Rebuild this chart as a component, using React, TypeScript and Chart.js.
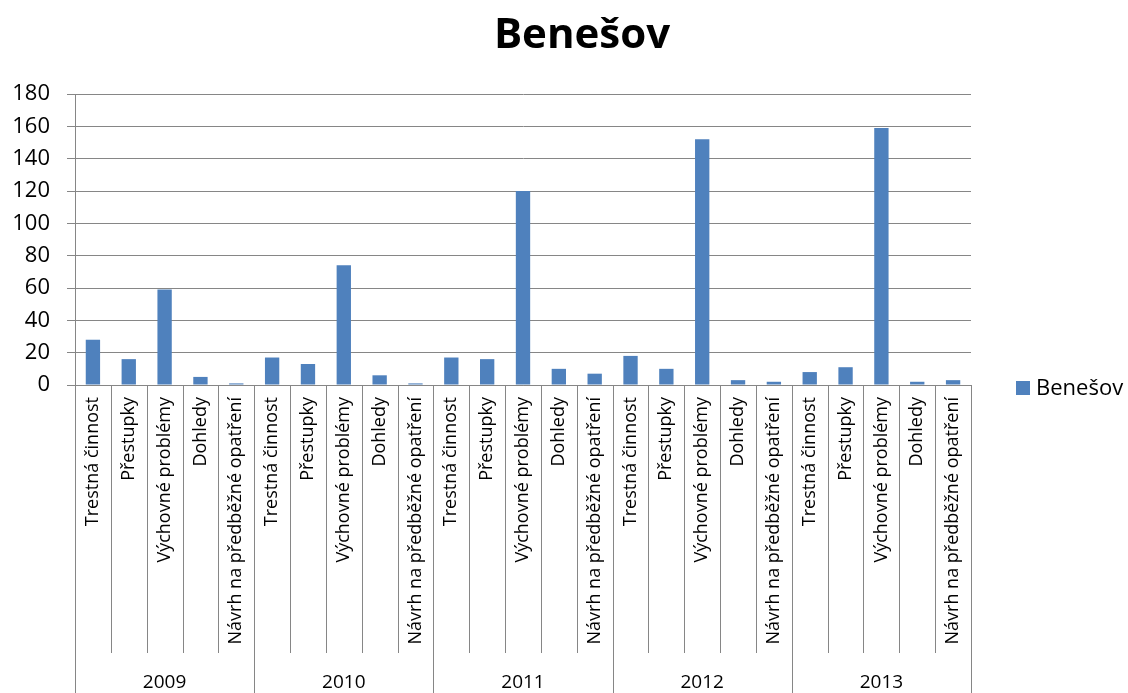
import React, { useEffect, useRef } from "react";
import { Chart, registerables } from "chart.js";

Chart.register(...registerables);

const chartTitle = "Benešov";
const seriesName = "Benešov";
const years = ["2009", "2010", "2011", "2012", "2013"];
const subcategories = [
  "Trestná činnost",
  "Přestupky",
  "Výchovné problémy",
  "Dohledy",
  "Návrh na předběžné opatření",
];
const values2009 = [28, 16, 59, 5, 1];
const values2010 = [17, 13, 74, 6, 1];
const values2011 = [17, 16, 120, 10, 7];
const values2012 = [18, 10, 152, 3, 2];
const values2013 = [8, 11, 159, 2, 3];
const yMin = 0;
const yMax = 180;
const yStep = 20;

const seriesValues = [values2009, values2010, values2011, values2012, values2013];
const labels: string[] = [];
const values: number[] = [];
years.forEach((_, yi) => {
  subcategories.forEach((s, si) => {
    labels.push(s);
    values.push(seriesValues[yi][si]);
  });
});

const FONT = "'Open Sans', 'Liberation Sans', Arial, sans-serif";
const BAR_COLOR = "#4F81BD";
const GRID = "#868686";

const decorPlugin = {
  id: "decor",
  afterDraw(chart: any) {
    const ctx = chart.ctx;
    const xs = chart.scales.x;
    const area = chart.chartArea;
    const n = labels.length;
    const step = xs.getPixelForValue(1) - xs.getPixelForValue(0);
    const groupSize = subcategories.length;
    ctx.save();
    ctx.strokeStyle = GRID;
    ctx.lineWidth = 1;
    for (let i = 0; i <= n; i++) {
      const x = Math.round(xs.getPixelForValue(0) - step / 2 + i * step) + 0.5;
      const isGroup = i % groupSize === 0;
      ctx.beginPath();
      ctx.moveTo(x, area.bottom);
      ctx.lineTo(x, isGroup ? chart.height : 653);
      ctx.stroke();
    }
    // year labels
    ctx.fillStyle = "#000";
    ctx.font = `19px ${FONT}`;
    ctx.textAlign = "center";
    ctx.textBaseline = "middle";
    years.forEach((y, gi) => {
      const a = xs.getPixelForValue(gi * groupSize);
      const b = xs.getPixelForValue(gi * groupSize + groupSize - 1);
      ctx.fillText(y, (a + b) / 2, 683);
    });
    // title
    ctx.font = `bold 42px ${FONT}`;
    ctx.textBaseline = "alphabetic";
    ctx.fillText(chartTitle, 582, 48);
    // legend
    const ds = chart.data.datasets[0];
    ctx.fillStyle = ds.backgroundColor;
    ctx.fillRect(1016, 381, 14, 14);
    ctx.fillStyle = "#000";
    ctx.font = `22px ${FONT}`;
    ctx.textAlign = "left";
    ctx.textBaseline = "alphabetic";
    ctx.fillText(ds.label, 1036, 395);
    ctx.restore();
  },
};

export default function App() {
  const ref = useRef<HTMLCanvasElement | null>(null);
  useEffect(() => {
    if (!ref.current) return;
    const chart = new Chart(ref.current, {
      type: "bar",
      data: {
        labels,
        datasets: [
          {
            label: seriesName,
            data: values,
            backgroundColor: BAR_COLOR,
            barPercentage: 0.4,
            categoryPercentage: 1,
          },
        ],
      },
      options: {
        responsive: false,
        animation: false,
        layout: { padding: { left: 0, right: 157, top: 94, bottom: 0 } },
        plugins: {
          legend: { display: false },
          title: { display: false },
          tooltip: { enabled: false },
        },
        scales: {
          x: {
            type: "category",
            grid: { display: false, drawTicks: false },
            border: { display: true, color: GRID },
            ticks: {
              autoSkip: false,
              minRotation: 90,
              maxRotation: 90,
              padding: 12,
              color: "#000",
              font: { family: FONT, size: 18 },
            },
            afterFit(scale: any) {
              scale.height = 308;
            },
          },
          y: {
            min: yMin,
            max: yMax,
            ticks: {
              stepSize: yStep,
              color: "#000",
              padding: 17,
              font: { family: FONT, size: 22 },
            },
            grid: { color: GRID, tickLength: 8, lineWidth: 1 },
            border: { display: true, color: GRID },
            afterFit(scale: any) {
              scale.width = 75;
            },
          },
        },
      },
      plugins: [decorPlugin],
    });
    return () => chart.destroy();
  }, []);
  return (
    <div style={{ position: "absolute", left: 0, top: 0, width: 1128, height: 693, background: "#fff" }}>
      <canvas ref={ref} width={1128} height={693} />
    </div>
  );
}
